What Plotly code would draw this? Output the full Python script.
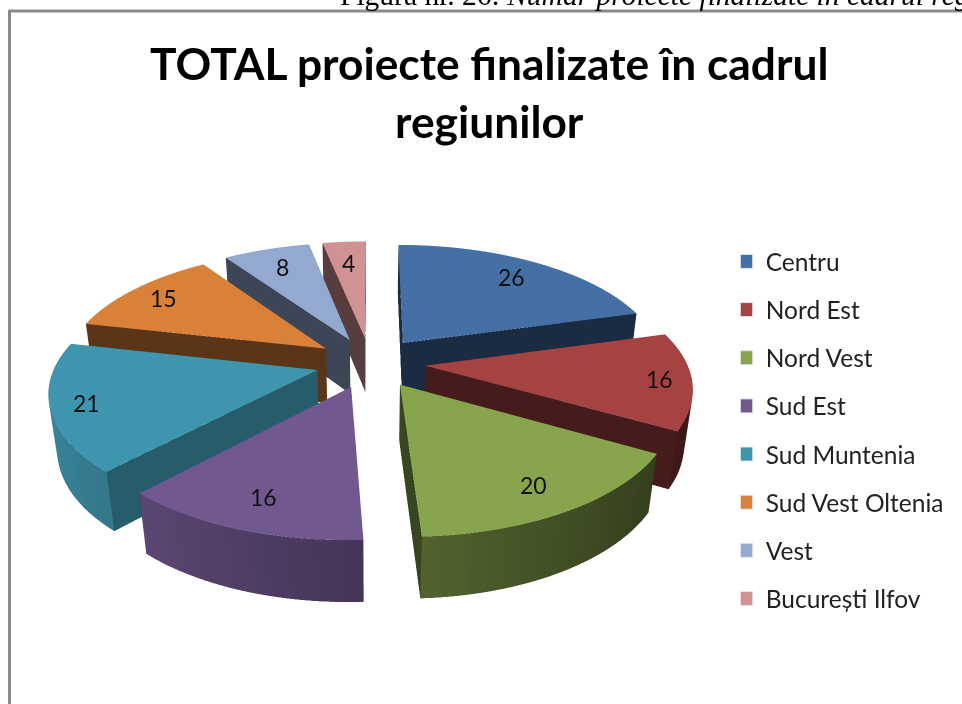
import math
import plotly.graph_objects as go

categories = ["Centru", "Nord Est", "Nord Vest", "Sud Est", "Sud Muntenia", "Sud Vest Oltenia", "Vest", "București Ilfov"]
values = [26, 16, 20, 16, 21, 15, 8, 4]
colors = ["#4570A6", "#A54342", "#88A44D", "#71588F", "#4095AE", "#D98039", "#93A9CF", "#D09293"]
label_radius = [0.80, 0.88, 0.82, 0.80, 0.87, 0.84, 0.78, 0.76]
cut_shade = [0.40, 0.42, 0.42, 0.45, 0.62, 0.42, 0.42, 0.42]

PULL = 0.21
DEPTH = 0.24
FONT = "Lato"
SEG = 1.5  # degrees per wall segment
W, H = 962, 1100


def py_(px):
    return 1 - px / H


def shade(color, k):
    r, g, b = (int(color[i:i + 2], 16) for i in (1, 3, 5))
    return f"rgb({int(r * k)},{int(g * k)},{int(b * k)})"


def wedge(a0, a1, color, cut):
    mid = math.radians((a0 + a1) / 2)
    ox, oy = PULL * math.sin(mid), PULL * math.cos(mid)
    n = max(2, int((a1 - a0) / SEG))
    angs = [a0 + (a1 - a0) * i / n for i in range(n + 1)]
    px = [ox + math.sin(math.radians(a)) for a in angs]
    py = [oy + math.cos(math.radians(a)) for a in angs]
    m = len(angs)
    x = px + px + [ox, ox]
    y = py + py + [oy, oy]
    z = [DEPTH] * m + [0] * m + [DEPTH, 0]
    i, j, k, fc = [], [], [], []
    for s in range(m - 1):
        i.append(2 * m); j.append(s); k.append(s + 1); fc.append(color)
        th = math.radians((angs[s] + angs[s + 1]) / 2)
        w = 0.62 - 0.27 * math.sin(th)
        for tri in ((s, s + 1, m + s), (s + 1, m + s + 1, m + s)):
            i.append(tri[0]); j.append(tri[1]); k.append(tri[2]); fc.append(shade(color, w))
    for a, b in ((0, m), (m - 1, 2 * m - 1)):
        for tri in ((2 * m, a, b), (2 * m, b, 2 * m + 1)):
            i.append(tri[0]); j.append(tri[1]); k.append(tri[2]); fc.append(shade(color, cut))
    return x, y, z, i, j, k, fc


fig = go.Figure()
total = sum(values)
start = 0.0
notes = []
for name, v, c, lr, cs in zip(categories, values, colors, label_radius, cut_shade):
    end = start + 360.0 * v / total
    x, y, z, i, j, k, fc = wedge(start, end, c, cs)
    fig.add_trace(go.Mesh3d(x=x, y=y, z=z, i=i, j=j, k=k, facecolor=fc, flatshading=True, name=name,
                            lighting=dict(ambient=1, diffuse=0, specular=0, fresnel=0, roughness=1),
                            hoverinfo="name", showscale=False))
    mid = math.radians((start + end) / 2)
    r = PULL + lr
    notes.append(dict(x=r * math.sin(mid), y=r * math.cos(mid), z=DEPTH, text=str(v), showarrow=False,
                      font=dict(family=FONT, size=23, color="#111111")))
    start = end

for idx, (name, c) in enumerate(zip(categories, colors)):
    fig.add_trace(go.Scatter(x=[None], y=[None], mode="markers", name=name, legendgroup=name,
                             marker=dict(symbol="square", size=14, color=c, line=dict(color="#dfe6ee", width=1))))

E = math.radians(35)
D = 1.98
T = -0.238  # slide the camera along its own up axis
ux, uy, uz = 0, T * math.sin(E), T * math.cos(E)
fig.update_layout(
    width=W, height=H, margin=dict(l=0, r=0, t=0, b=0), paper_bgcolor="white", plot_bgcolor="white",
    xaxis=dict(visible=False), yaxis=dict(visible=False),
    scene=dict(
        domain=dict(x=[0, 0.77], y=[0, 1]),
        xaxis=dict(visible=False, range=[-1.3, 1.3]),
        yaxis=dict(visible=False, range=[-1.3, 1.3]),
        zaxis=dict(visible=False, range=[0, DEPTH]),
        aspectmode="manual", aspectratio=dict(x=1, y=1, z=DEPTH / 2.6),
        camera=dict(eye=dict(x=0, y=-D * math.cos(E) + uy, z=D * math.sin(E) + uz), up=dict(x=0, y=0, z=1),
                    center=dict(x=0, y=uy, z=uz), projection=dict(type="perspective")),
        annotations=notes,
    ),
    legend=dict(x=0.770, y=py_(239), xanchor="left", yanchor="top", tracegroupgap=13.3, bgcolor="rgba(0,0,0,0)",
                indentation=-15,
                font=dict(family=FONT, size=24.5, color="#222222"), itemclick=False, itemdoubleclick=False),
    annotations=[
        dict(xref="paper", yref="paper", x=489 / W, y=py_(91), xanchor="center", yanchor="middle",
             text="<b>TOTAL proiecte finalizate în cadrul<br>regiunilor</b>", showarrow=False,
             font=dict(family=FONT, size=44.3, color="black")),
        dict(xref="paper", yref="paper", x=338 / W, y=py_(13), xanchor="left", yanchor="bottom",
             text="Figura nr. 26: <i>Număr proiecte finalizate în cadrul regiunilor</i>", showarrow=False,
             font=dict(family="Liberation Serif", size=29.5, color="black")),
    ],
    shapes=[
        dict(type="line", xref="paper", yref="paper", x0=9 / W, x1=1, y0=py_(11), y1=py_(11),
             line=dict(color="#8a8a8a", width=3)),
        dict(type="line", xref="paper", yref="paper", x0=9.5 / W, x1=9.5 / W, y0=py_(10), y1=0,
             line=dict(color="#8a8a8a", width=3)),
    ],
)
fig.write_html("out.html", config=dict(displayModeBar=False),
               post_script="document.body.style.margin='0';document.body.style.overflow='hidden';"
                           "document.documentElement.style.overflow='hidden';")
